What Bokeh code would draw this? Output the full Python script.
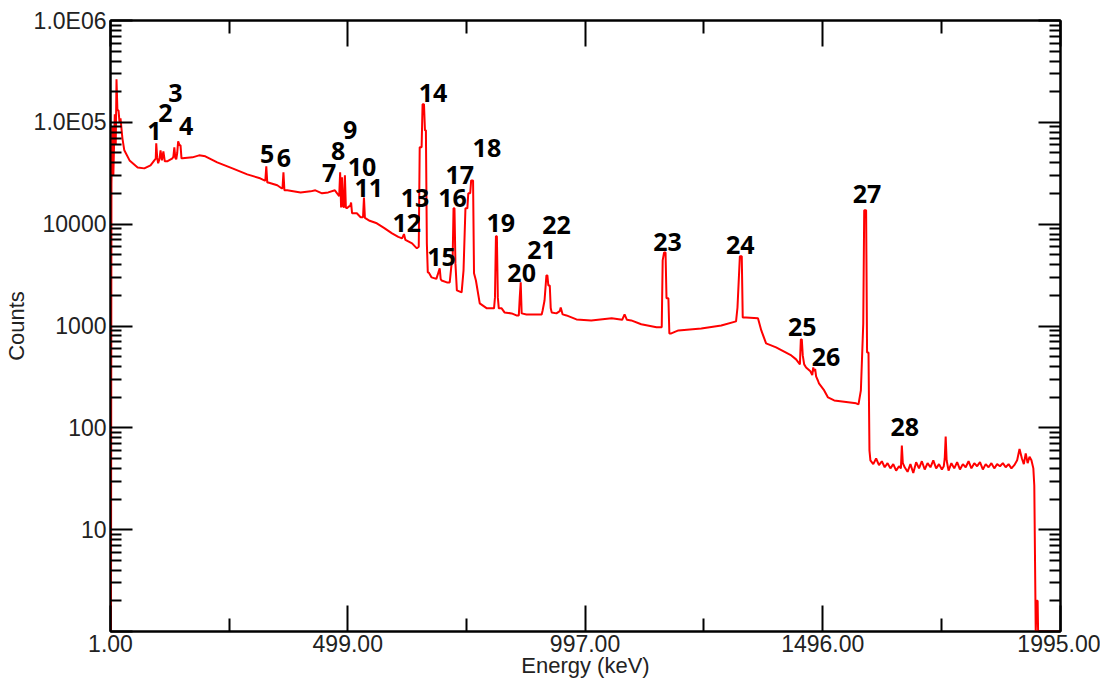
from bokeh.plotting import figure
from bokeh.models import (FixedTicker, LogAxis, LinearAxis, Range1d,
                          NumeralTickFormatter, ColumnDataSource)
from bokeh.core.properties import value
from bokeh.embed import file_html
from bokeh.resources import INLINE

# ---------------- data ----------------
energy_keV = [
    1, 2, 3, 5, 7, 10, 12, 13.6, 15.5, 17.8, 20, 22, 26, 30, 41, 58, 72, 85,
    93, 96, 97, 99, 101, 104, 106, 109, 112, 115, 120, 131, 133, 135, 137,
    139, 141, 143, 146, 148, 150, 152, 173, 187, 200, 225, 257, 288, 315,
    324, 326, 328, 330, 332, 351, 360, 362, 364, 366, 372, 400, 421, 431,
    445, 458, 472, 481, 483, 485, 487, 489, 491, 493, 495, 497, 502, 504,
    506, 508, 518, 526, 531, 533, 535, 545, 560, 575, 592, 605, 613, 617,
    620, 634, 644, 648, 650, 654, 656, 659, 661, 663, 665, 667, 669, 675,
    685, 692, 694, 696, 707, 713, 717, 719, 721, 723, 725, 728, 738, 742,
    746, 750, 752, 756, 758, 762, 764, 768, 776, 791, 806, 808, 810, 812,
    814, 816, 822, 828, 843, 853, 858, 860, 862, 864, 874, 885, 906, 908,
    912, 916, 918, 920, 923, 925, 927, 937, 944, 946, 950, 958, 979, 1010,
    1053, 1075, 1080, 1085, 1094, 1115, 1147, 1158, 1160, 1163, 1166, 1168,
    1172, 1174, 1178, 1193, 1241, 1283, 1314, 1317, 1322, 1326, 1328, 1335,
    1360, 1367, 1377, 1398, 1430, 1440, 1448, 1450, 1452, 1454, 1457, 1461,
    1470, 1474, 1476, 1478, 1480, 1482, 1486, 1488, 1499, 1507, 1520, 1566,
    1571, 1576, 1581, 1583, 1587, 1589, 1592, 1594,
    1596, 1602, 1608, 1614, 1620, 1626, 1632, 1638, 1644, 1650, 1656, 1660,
    1662, 1664, 1668, 1674, 1680, 1686, 1692, 1698, 1704, 1710, 1716, 1722,
    1728, 1734, 1740, 1746, 1750, 1752, 1754, 1756, 1760, 1766, 1772, 1778,
    1784, 1790, 1796, 1802, 1808, 1814, 1820, 1826, 1832, 1838, 1844, 1850,
    1856, 1862, 1868, 1874, 1880, 1886, 1892, 1898, 1904, 1909, 1914, 1918,
    1922, 1926, 1930, 1934, 1938, 1940, 1943, 1945, 1947, 1948, 1995,
]
counts = [
    1, 1, 25000, 90000, 30000, 120000, 60000, 264500, 131200, 131200,
    100000, 109500, 69600, 53100, 42300, 36100, 35300, 37800,
    42300, 44000, 62200, 45000, 39600, 44000, 53100, 42300, 51900, 41400,
    41400, 44300, 46000, 56800, 45000,
    43300, 50000, 65100, 59400, 59400, 44300, 44300, 45300, 47400, 46400,
    40500, 35300, 30800, 28200,
    26900, 26900, 37000, 25700, 25700, 24100, 22500, 22500, 32300, 21500,
    21500, 20500, 21000, 21500,
    20100, 20500, 21500, 18800, 32300, 14600, 28800, 15000, 14600, 30200,
    14600, 14300, 15000, 15000,
    16300, 12800, 12800, 11700, 11700, 18300, 11500, 10800, 10200, 9200,
    8120, 7500, 7250, 8000,
    7000, 6480, 5790, 6000, 56800, 56800, 150200, 150200, 83400, 83400,
    6480, 3360, 3360, 3000,
    2900, 3680, 2900, 2800, 2680, 2680, 4120, 4120, 14300, 14300, 4120,
    2240, 2140, 3520,
    14300, 14300, 20100, 20100, 26900, 26900, 3290, 2800, 1670, 1490,
    1490, 1910, 7590, 7590,
    1910, 1490, 1490, 1360, 1330, 1270, 1270, 1910, 2680, 1330, 1300, 1300,
    1300, 1420,
    1780, 3140, 3140, 2500, 2500, 1500, 1360, 1330, 1400, 1520, 1300, 1270,
    1160, 1135,
    1190, 1150, 1300, 1150, 1135, 1040, 970, 970, 4410, 5280, 5280, 1870,
    1870, 846, 846, 905, 947, 1010, 1110, 1520, 4830, 4830, 1215, 1215,
    1190, 905, 675, 616, 514, 470, 420, 739, 739, 514, 420, 392,
    360, 330, 392, 360, 380, 320, 290, 273, 233, 199, 186, 174,
    170, 233, 1060, 13700, 13700, 550, 550, 60,
    48, 44, 50, 43, 47, 41, 45, 40, 44, 38, 42, 40,
    67, 45, 41, 37, 44, 36, 46, 40, 47, 39, 45, 41,
    48, 40, 44, 39, 42, 50, 82, 48, 38, 45, 40, 46,
    39, 44, 41, 47, 40, 45, 42, 46, 39, 44, 41, 45,
    40, 44, 42, 45, 41, 44, 40, 43, 48, 62, 50, 44,
    56, 45, 52, 48, 40, 27, 1, 2, 2, 1, 1,
]

peak_labels = [str(n) for n in range(1, 29)]
label_energy = [93, 116, 137, 160, 330, 365, 460, 479, 504, 529, 543, 623,
                640, 678, 696, 719, 734, 791, 820, 864, 906, 937, 1170, 1323,
                1453, 1503, 1589, 1668]
label_counts = [81600, 122500, 192700, 91400, 48500, 44300, 31500, 51900,
                83400, 36100, 22500, 10200, 17900, 192700, 4720, 17900, 30200,
                55600, 10200, 3290, 5530, 9730, 6620, 6190, 969, 492, 19600,
                101]

x_major = [1, 499, 997, 1496, 1995]
x_minor = [250, 748, 1246.5, 1745.5]
y_major = [1, 10, 100, 1000, 10000, 100000, 1000000]
y_major_text = ["", "10", "100", "1000", "10000", "1.0E05", "1.0E06"]
y_minor = [m * 10 ** d for d in range(6) for m in range(2, 10)]

AX_FONT = "Liberation Sans"

p = figure(width=1100, height=688, y_axis_type="log",
           x_range=Range1d(1, 1995), y_range=Range1d(1, 1e6),
           output_backend="svg", toolbar_location=None,
           x_axis_label="Energy (keV)", y_axis_label="Counts",
           min_border_left=108, min_border_right=40, min_border_top=20,
           min_border_bottom=57, background_fill_color="white",
           border_fill_color="white")
p.grid.visible = False
p.outline_line_color = "black"
p.outline_line_width = 2

p.line(energy_keV, counts, line_color="#ff0000", line_width=2)

src = ColumnDataSource(dict(x=label_energy, y=label_counts, t=peak_labels))
p.text("x", "y", text="t", source=src, text_font=value("Open Sans"),
       text_font_style="bold", text_font_size="25px", text_color="black",
       text_align="center", text_baseline="middle")


def style_axis(ax, major_len, minor_len):
    ax.axis_line_color = "black"
    ax.axis_line_width = 2
    ax.major_tick_line_color = "black"
    ax.minor_tick_line_color = "black"
    ax.major_tick_line_width = 2
    ax.minor_tick_line_width = 2
    ax.major_tick_in = major_len
    ax.major_tick_out = 0
    ax.minor_tick_in = minor_len
    ax.minor_tick_out = 0
    ax.major_label_text_font = AX_FONT
    ax.major_label_text_font_size = "23px"
    ax.major_label_text_color = "#222222"
    ax.axis_label_text_font = AX_FONT
    ax.axis_label_text_font_size = "22px"
    ax.axis_label_text_font_style = "normal"
    ax.axis_label_text_color = "#222222"


xb = p.xaxis[0]
xb.ticker = FixedTicker(ticks=x_major, minor_ticks=x_minor)
xb.formatter = NumeralTickFormatter(format="0.00")
style_axis(xb, 26, 13)
xb.major_label_standoff = 3
xb.axis_label_standoff = -2

yl = p.yaxis[0]
yl.ticker = FixedTicker(ticks=y_major, minor_ticks=y_minor)
yl.major_label_overrides = {float(k): v for k, v in zip(y_major, y_major_text)}
style_axis(yl, 22, 11)
yl.major_label_standoff = 4
yl.axis_label_standoff = 2

top = LinearAxis(ticker=FixedTicker(ticks=x_major, minor_ticks=x_minor),
                 major_label_overrides={float(k): "" for k in x_major})
style_axis(top, 26, 13)
top.major_label_text_font_size = "0px"
top.major_label_standoff = 0
p.add_layout(top, "above")

right = LogAxis(ticker=FixedTicker(ticks=y_major, minor_ticks=y_minor),
                major_label_overrides={float(k): "" for k in y_major})
style_axis(right, 22, 11)
right.major_label_text_font_size = "0px"
right.major_label_standoff = 0
p.add_layout(right, "right")

open("out.html", "w").write(file_html(p, INLINE))
